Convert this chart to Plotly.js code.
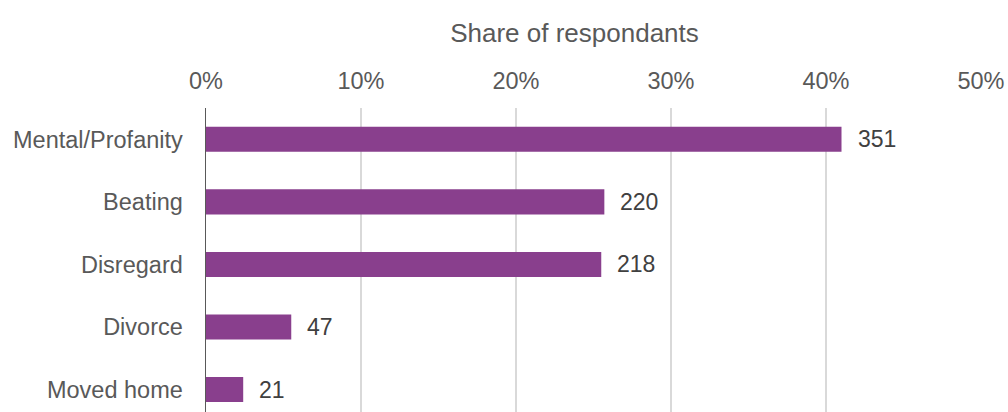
<!DOCTYPE html>
<html>
<head>
<meta charset="utf-8">
<script src="https://cdn.plot.ly/plotly-3.0.1.min.js"></script>
<style>html,body{margin:0;padding:0;background:#fff;}#chart{width:1008px;height:412px;}</style>
</head>
<body>
<div id="chart"></div>
<script>
const categories = ["Mental/Profanity", "Beating", "Disregard", "Divorce", "Moved home"];
const shares = [41.0, 25.7, 25.5, 5.5, 2.4];
const counts = [351, 220, 218, 47, 21];
const tickVals = [0, 10, 20, 30, 40, 50];
const tickLabels = ["0%", "10%", "20%", "30%", "40%", "50%"];

const FONT = "Liberation Sans, Arial, sans-serif";

const trace = {
  type: "bar",
  orientation: "h",
  x: shares,
  y: categories,
  width: 0.4,
  marker: {color: "#893f8d", line: {width: 0}},
  hoverinfo: "skip"
};

const annotations = categories.map((c, i) => ({
  x: shares[i], y: c, xref: "x", yref: "y",
  text: String(counts[i]), showarrow: false,
  xanchor: "left", yanchor: "middle", xshift: 14,
  font: {family: FONT, size: 23, color: "#404040"}
}));

const layout = {
  width: 1008, height: 412,
  margin: {l: 206, r: 27, t: 108, b: 0},
  paper_bgcolor: "#fff", plot_bgcolor: "#fff",
  showlegend: false,
  title: {
    text: "Share of respondants",
    xref: "container", x: 574.5/1008, xanchor: "center",
    yref: "container", y: 1 - 33/412, yanchor: "middle",
    font: {family: FONT, size: 26, color: "#595959"}
  },
  xaxis: {
    side: "top",
    range: [0, 50],
    tickvals: tickVals, ticktext: tickLabels,
    showgrid: true, gridcolor: "#d9d9d9", gridwidth: 1.5,
    zeroline: false, showline: false,
    ticks: "", ticklabelstandoff: 13,
    tickfont: {family: FONT, size: 23.5, color: "#595959"},
    fixedrange: true
  },
  yaxis: {
    range: [4.358, -0.5],
    tickvals: categories, ticktext: categories,
    showgrid: false, zeroline: false,
    showline: true, linecolor: "#595959", linewidth: 1.5,
    ticks: "", ticklabelstandoff: 17,
    tickfont: {family: FONT, size: 23.5, color: "#595959"},
    fixedrange: true
  },
  annotations: annotations
};

Plotly.newPlot("chart", [trace], layout, {displayModeBar: false, staticPlot: true});
</script>
</body>
</html>
